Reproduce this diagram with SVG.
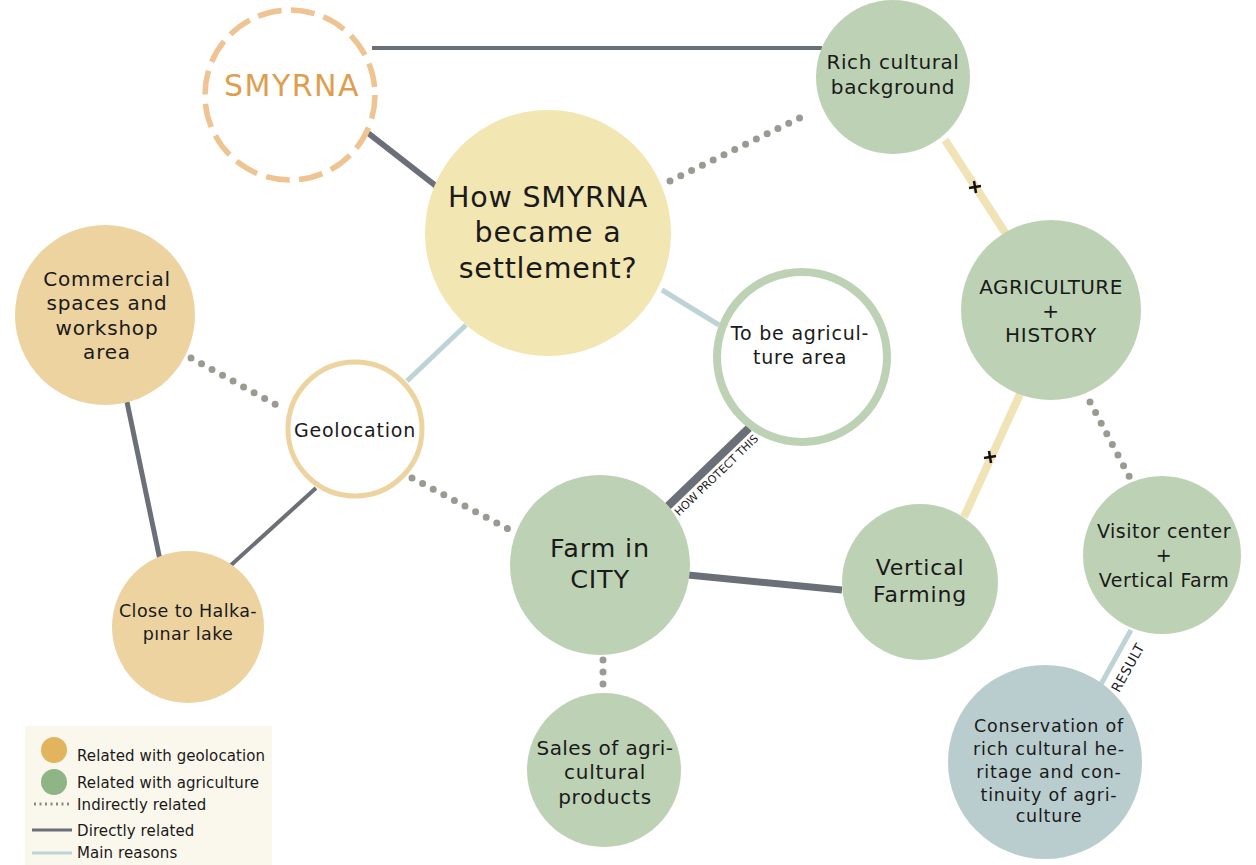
<svg xmlns="http://www.w3.org/2000/svg" width="1256" height="865" viewBox="0 0 1256 865">
<style>
text{font-family:"DejaVu Sans","Open Sans",sans-serif;fill:#1a1a1a;text-anchor:middle;letter-spacing:0.8px}
.g{fill:#BDD2B4}
.y{fill:#EDD3A0}
.dark{stroke:#6B6F77;fill:none;stroke-linecap:butt}
.dot{stroke:#9A9A92;fill:none;stroke-width:7;stroke-linecap:round;stroke-dasharray:0 12}
.blue{stroke:#BDD3D6;fill:none;stroke-width:5}
.pale{stroke:#F0E4B6;fill:none;stroke-width:8}
.plus{stroke:#111;stroke-width:2.5}
.lg{font-size:15px;text-anchor:start;letter-spacing:0.1px}
</style>
<rect width="1256" height="865" fill="#fff"/>
<g id="connectors">
<line class="dark" x1="372" y1="48" x2="822" y2="48" stroke-width="4"/>
<line class="dark" x1="368" y1="133" x2="436" y2="186" stroke-width="6"/>
<line class="dot" x1="670" y1="181" x2="810" y2="113"/>
<line class="pale" x1="945" y1="140" x2="1006" y2="234"/>
<line class="pale" x1="1020" y1="394" x2="964" y2="517"/>
<line class="dot" x1="1090" y1="402" x2="1130" y2="478"/>
<line class="blue" x1="466" y1="325" x2="407" y2="381"/>
<line class="blue" x1="662" y1="290" x2="719" y2="325"/>
<line class="dot" x1="191" y1="358" x2="282" y2="408"/>
<line class="dark" x1="127" y1="402" x2="160" y2="560" stroke-width="5"/>
<line class="dark" x1="316" y1="488" x2="230" y2="566" stroke-width="4"/>
<line class="dot" x1="412" y1="478" x2="510" y2="530"/>
<line class="dark" x1="749" y1="428" x2="668" y2="506" stroke-width="8"/>
<line class="dark" x1="688" y1="575" x2="842" y2="590" stroke-width="7"/>
<line class="dot" x1="603" y1="660" x2="603" y2="690"/>
<line class="blue" x1="1131" y1="630" x2="1100" y2="686" stroke-width="8"/>
<g class="plus">
<line x1="969" y1="188" x2="981" y2="186"/><line x1="974" y1="181" x2="976" y2="193"/>
<line x1="984" y1="458" x2="996" y2="456"/><line x1="989" y1="451" x2="991" y2="463"/>
</g>
<text transform="translate(719 478) rotate(-44)" font-size="11" style="letter-spacing:0">HOW PROTECT THIS</text>
<text transform="translate(1132 670) rotate(-61)" font-size="13.5" style="letter-spacing:0.5px">RESULT</text>
</g>
<g id="n-smyrna">
<circle cx="290" cy="95" r="85" fill="#fff" stroke="#EEC493" stroke-width="5.5" stroke-dasharray="24 9.4"/>
<text x="292" y="87" font-size="30" style="fill:#DF9E4E;letter-spacing:1.5px" dominant-baseline="middle">SMYRNA</text>
</g>
<g id="n-rich">
<circle class="g" cx="893" cy="77" r="77"/>
<text x="893" y="69" font-size="20" style="letter-spacing:0.6px">Rich cultural</text>
<text x="893" y="94" font-size="20" style="letter-spacing:0.6px">background</text>
</g>
<g id="n-how">
<circle cx="548" cy="233" r="123" fill="#F2E6B3"/>
<g style="letter-spacing:1.6px">
<text x="548" y="207" font-size="28.5">How SMYRNA</text>
<text x="548" y="242" font-size="28.5">became a</text>
<text x="548" y="278" font-size="28.5">settlement?</text>
</g>
</g>
<g id="n-commercial">
<circle class="y" cx="105" cy="315" r="90"/>
<text x="107" y="286" font-size="20">Commercial</text>
<text x="107" y="310" font-size="20">spaces and</text>
<text x="107" y="335" font-size="20">workshop</text>
<text x="107" y="359" font-size="20">area</text>
</g>
<g id="n-geolocation">
<circle cx="355" cy="429" r="67" fill="#fff" stroke="#EDD3A0" stroke-width="5"/>
<text x="355" y="437" font-size="19">Geolocation</text>
</g>
<g id="n-tobe">
<circle cx="802" cy="357" r="85" fill="#fff" stroke="#BDD2B4" stroke-width="8"/>
<text x="800" y="340" font-size="19">To be agricul-</text>
<text x="800" y="364" font-size="19">ture area</text>
</g>
<g id="n-agri">
<circle class="g" cx="1051" cy="310" r="90"/>
<text x="1051" y="294" font-size="20" style="letter-spacing:0.4px">AGRICULTURE</text>
<text x="1051" y="318" font-size="20">+</text>
<text x="1051" y="342" font-size="20">HISTORY</text>
</g>
<g id="n-farm">
<circle class="g" cx="600" cy="565" r="90"/>
<g style="letter-spacing:1.5px">
<text x="600" y="557" font-size="25.5">Farm in</text>
<text x="600" y="588" font-size="25.5">CITY</text>
</g>
</g>
<g id="n-vertical">
<circle class="g" cx="920" cy="582" r="78"/>
<text x="920" y="575" font-size="22">Vertical</text>
<text x="920" y="602" font-size="22">Farming</text>
</g>
<g id="n-visitor">
<circle class="g" cx="1162" cy="555" r="79"/>
<text x="1164" y="538" font-size="19" style="letter-spacing:0.5px">Visitor center</text>
<text x="1164" y="562" font-size="19">+</text>
<text x="1164" y="587" font-size="19" style="letter-spacing:0.5px">Vertical Farm</text>
</g>
<g id="n-close">
<circle class="y" cx="188" cy="627" r="76"/>
<text x="188" y="617" font-size="17.5" style="letter-spacing:0.4px">Close to Halka-</text>
<text x="188" y="640" font-size="17.5" style="letter-spacing:0.4px">pınar lake</text>
</g>
<g id="n-sales">
<circle class="g" cx="604" cy="770" r="77"/>
<text x="605" y="755" font-size="20" style="letter-spacing:0.4px">Sales of agri-</text>
<text x="605" y="779" font-size="20">cultural</text>
<text x="605" y="804" font-size="20">products</text>
</g>
<g id="n-conservation">
<circle cx="1045" cy="762" r="97" fill="#B9CDCF"/>
<g style="letter-spacing:0.5px">
<text x="1049" y="732" font-size="17.5">Conservation of</text>
<text x="1049" y="755" font-size="17.5">rich cultural he-</text>
<text x="1049" y="778" font-size="17.5">ritage and con-</text>
<text x="1049" y="801" font-size="17.5">tinuity of agri-</text>
<text x="1049" y="822" font-size="17.5">culture</text>
</g>
</g>
<g id="legend">
<rect x="25" y="726" width="247" height="139" fill="#FAF7EC"/>
<circle cx="54" cy="750" r="13" fill="#E3B45E"/>
<circle cx="54" cy="782" r="13" fill="#8FB485"/>
<line x1="34" y1="804" x2="72" y2="804" stroke="#8A8A82" stroke-width="3" stroke-dasharray="2 3.5"/>
<line x1="32" y1="830" x2="72" y2="830" stroke="#6B6F77" stroke-width="3"/>
<line x1="32" y1="853" x2="72" y2="853" stroke="#BDD3D6" stroke-width="3"/>
<text class="lg" x="77" y="761">Related with geolocation</text>
<text class="lg" x="77" y="788">Related with agriculture</text>
<text class="lg" x="77" y="810">Indirectly related</text>
<text class="lg" x="77" y="836">Directly related</text>
<text class="lg" x="77" y="858">Main reasons</text>
</g>
</svg>
